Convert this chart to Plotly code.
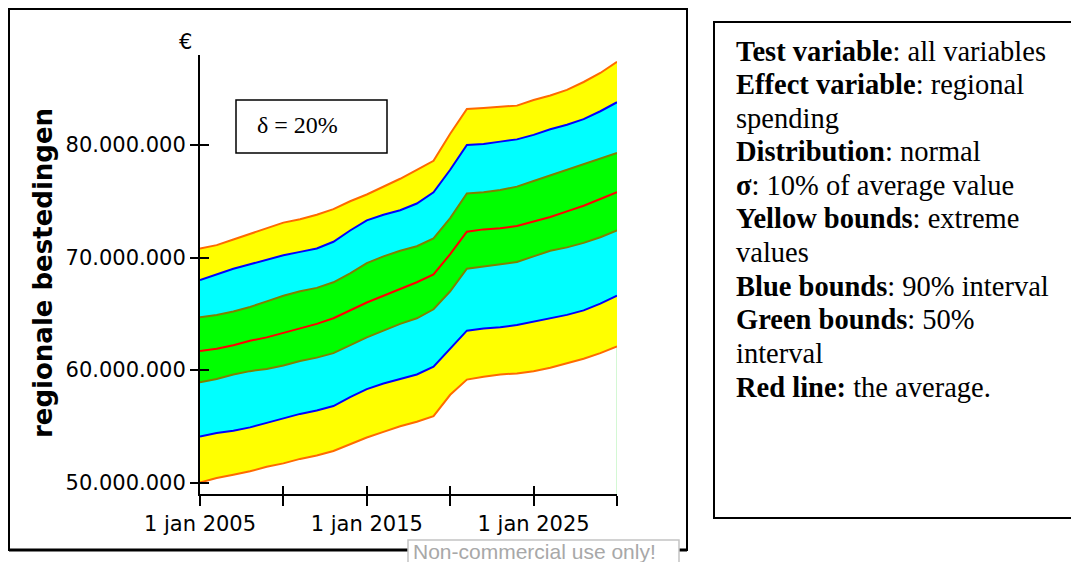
import plotly.graph_objects as go

# ── Data (values in millions of euro) ──────────────────────────────────────
years = list(range(2005, 2031))

yellow_low = [50.0, 50.4, 50.7, 51.0, 51.4, 51.7, 52.1, 52.4, 52.8, 53.4, 54.0, 54.5, 55.0,
              55.4, 55.9, 57.8, 59.15, 59.4, 59.6, 59.7, 59.9, 60.2, 60.6, 61.0, 61.5, 62.1]
blue_low = [54.1, 54.4, 54.6, 54.9, 55.3, 55.7, 56.1, 56.4, 56.8, 57.6, 58.3, 58.8, 59.2,
            59.6, 60.3, 61.9, 63.5, 63.7, 63.8, 64.0, 64.3, 64.6, 64.9, 65.3, 65.9, 66.6]
green_low = [58.9, 59.2, 59.6, 59.9, 60.1, 60.4, 60.8, 61.1, 61.5, 62.2, 62.9, 63.5, 64.1,
             64.6, 65.4, 67.0, 69.0, 69.2, 69.4, 69.6, 70.1, 70.6, 70.9, 71.3, 71.8, 72.4]
average = [61.7, 61.9, 62.2, 62.6, 62.9, 63.3, 63.7, 64.1, 64.6, 65.3, 66.0, 66.6, 67.2,
           67.8, 68.5, 70.3, 72.3, 72.5, 72.6, 72.8, 73.2, 73.6, 74.1, 74.6, 75.2, 75.8]
green_high = [64.7, 64.9, 65.2, 65.6, 66.1, 66.6, 67.0, 67.3, 67.8, 68.6, 69.5, 70.1, 70.6,
              71.0, 71.7, 73.5, 75.7, 75.8, 76.0, 76.3, 76.8, 77.3, 77.8, 78.3, 78.8, 79.3]
blue_high = [68.0, 68.5, 69.0, 69.4, 69.8, 70.2, 70.5, 70.8, 71.4, 72.4, 73.3, 73.8, 74.2,
             74.8, 75.8, 77.8, 80.0, 80.1, 80.3, 80.5, 80.9, 81.4, 81.8, 82.3, 83.0, 83.8]
yellow_high = [70.8, 71.1, 71.6, 72.1, 72.6, 73.1, 73.4, 73.8, 74.3, 75.0, 75.6, 76.3, 77.0,
               77.8, 78.6, 81.0, 83.2, 83.3, 83.4, 83.5, 84.0, 84.4, 84.9, 85.6, 86.4, 87.4]

x_ticks = [2005, 2010, 2015, 2020, 2025, 2030]
x_ticktext = ["1 jan 2005", "", "1 jan 2015", "", "1 jan 2025", ""]
y_ticks = [50, 60, 70, 80]
y_ticktext = ["50.000.000", "60.000.000", "70.000.000", "80.000.000"]
y_range = [48.98, 88.0]

notes = [
    "<b>Test variable</b>: all variables",
    "<b>Effect variable</b>: regional",
    "spending",
    "<b>Distribution</b>: normal",
    "<b>σ</b>: 10% of average value",
    "<b>Yellow bounds</b>: extreme",
    "values",
    "<b>Blue bounds</b>: 90% interval",
    "<b>Green bounds</b>: 50%",
    "interval",
    "<b>Red line:</b> the average.",
]

# ── Colours ────────────────────────────────────────────────────────────────
YELLOW = "#ffff00"
CYAN = "#00ffff"
GREEN = "#00ff00"
ORANGE = "#ff6a00"
BLUE = "#0000ff"
OLIVE = "#808000"
RED = "#ff0000"

# plot area in page pixels (used to place the boxes / notes around it)
L, R, T, B = 200, 617, 55, 494
W, H = 1079, 562
PAGE_PAD = 8  # the html body margin shifts the figure by this much


def px(x):
    return (x - L) / (R - L)


def py(y):
    return (B - y) / (B - T)


fig = go.Figure()

# filled bands (no outlines, outlines drawn afterwards on top)
bands = [
    (yellow_low, None),
    (blue_low, YELLOW),
    (green_low, CYAN),
    (green_high, GREEN),
    (blue_high, CYAN),
    (yellow_high, YELLOW),
]
for vals, fc in bands:
    fig.add_trace(go.Scatter(
        x=years, y=vals, mode="lines",
        line=dict(width=0, color="rgba(0,0,0,0)"),
        fill="tonexty" if fc else None,
        fillcolor=fc,
        showlegend=False, hoverinfo="skip",
    ))

# right edge marker line (light green)
fig.add_trace(go.Scatter(
    x=[years[-1], years[-1]], y=[y_range[0], yellow_low[-1]], mode="lines",
    line=dict(color="#a8f0a8", width=1), showlegend=False, hoverinfo="skip",
))

for vals, col in [(yellow_low, ORANGE), (yellow_high, ORANGE), (blue_low, BLUE),
                  (blue_high, BLUE), (green_low, OLIVE), (green_high, OLIVE),
                  (average, RED)]:
    fig.add_trace(go.Scatter(
        x=years, y=vals, mode="lines", line=dict(color=col, width=2),
        showlegend=False,
    ))

# empty trace so the overlay axes (inner half of the crossing ticks) get drawn
fig.add_trace(go.Scatter(x=[], y=[], xaxis="x2", yaxis="y2", showlegend=False))

TICK_FONT = dict(family="DejaVu Sans", size=21, color="black")

fig.update_layout(
    width=W - PAGE_PAD, height=H - PAGE_PAD,
    margin=dict(l=L - PAGE_PAD, r=W - R, t=T - PAGE_PAD, b=H - B),
    paper_bgcolor="white",
    plot_bgcolor="white",
    showlegend=False,
    xaxis=dict(
        range=[2005, 2030], tickvals=x_ticks, ticktext=x_ticktext,
        ticks="outside", ticklen=10, tickwidth=2, tickcolor="black",
        showline=True, linecolor="black", linewidth=2,
        showgrid=False, zeroline=False, tickfont=TICK_FONT,
    ),
    yaxis=dict(
        range=y_range, tickvals=y_ticks, ticktext=y_ticktext,
        ticks="outside", ticklen=8, tickwidth=2, tickcolor="black",
        showline=True, linecolor="black", linewidth=2,
        showgrid=False, zeroline=False, tickfont=TICK_FONT,
    ),
    xaxis2=dict(
        overlaying="x", anchor="y2", range=[2005, 2030], tickvals=x_ticks,
        ticks="inside", ticklen=8, tickwidth=2, tickcolor="black",
        showticklabels=False, showline=False, showgrid=False, zeroline=False,
    ),
    yaxis2=dict(
        overlaying="y", anchor="x2", range=y_range, tickvals=y_ticks,
        ticks="inside", ticklen=9, tickwidth=2, tickcolor="black",
        showticklabels=False, showline=False, showgrid=False, zeroline=False,
    ),
)

shapes = [
    # frame around the chart
    dict(type="rect", xref="paper", yref="paper",
         x0=px(9), x1=px(687), y0=py(550), y1=py(9),
         line=dict(color="black", width=2)),
    dict(type="line", xref="paper", yref="paper",
         x0=px(9), x1=px(687), y0=py(550), y1=py(550),
         line=dict(color="black", width=3)),
    # delta box
    dict(type="rect", xref="paper", yref="paper",
         x0=px(236), x1=px(387), y0=py(153), y1=py(100),
         line=dict(color="black", width=1.5), fillcolor="white"),
    # notes box
    dict(type="rect", xref="paper", yref="paper",
         x0=px(714), x1=px(1095), y0=py(518), y1=py(22),
         line=dict(color="black", width=2)),
    # watermark box
    dict(type="rect", xref="paper", yref="paper",
         x0=px(408), x1=px(679), y0=py(575), y1=py(540),
         line=dict(color="#c4c4c4", width=1.5), fillcolor="white"),
]

annotations = [
    dict(text="<b>regionale bestedingen</b>", x=px(43), y=py(273), textangle=-90,
         font=dict(family="DejaVu Sans", size=26, color="black"),
         xanchor="center", yanchor="middle"),
    dict(text="€", x=px(185), y=py(42),
         font=dict(family="DejaVu Sans", size=21, color="black"),
         xanchor="center", yanchor="middle"),
    dict(text="δ = 20%", x=px(297), y=py(125),
         font=dict(family="Liberation Serif", size=24, color="black"),
         xanchor="center", yanchor="middle"),
    dict(text="Non-commercial use only!", x=px(411), y=py(551),
         font=dict(family="Liberation Sans", size=21, color="#a8a8a8"),
         xanchor="left", yanchor="middle"),
]

for i, line in enumerate(notes):
    annotations.append(dict(
        text=line, x=px(734), y=py(60 + i * 33.6 - 9),
        font=dict(family="Liberation Serif", size=28.5, color="black"),
        xanchor="left", yanchor="middle",
    ))

for a in annotations:
    a.update(xref="paper", yref="paper", showarrow=False)

fig.update_layout(shapes=shapes, annotations=annotations)

fig.write_html("out.html")
